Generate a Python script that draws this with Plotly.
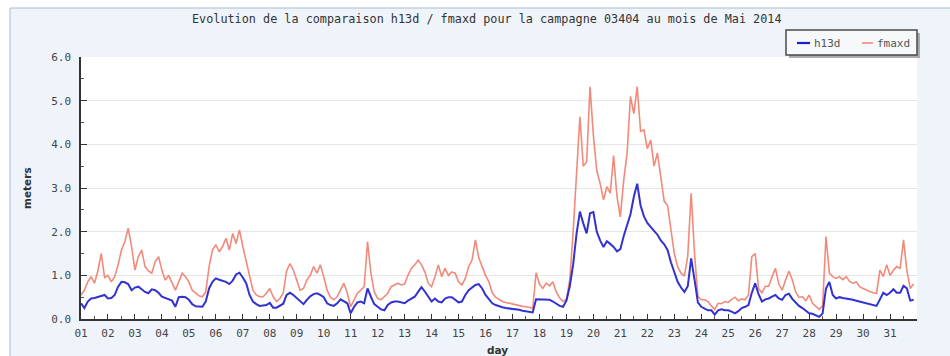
import pandas as pd
import plotly.graph_objects as go

# ---- data (3-hourly, 1 May 2014 00:00 onward) ----
h13d = [
    0.36, 0.25, 0.40, 0.47, 0.48, 0.50, 0.52, 0.55,
    0.47, 0.48, 0.55, 0.74, 0.85, 0.84, 0.80, 0.66,
    0.72, 0.74, 0.68, 0.62, 0.59, 0.68, 0.66, 0.60,
    0.51, 0.48, 0.45, 0.42, 0.28, 0.50, 0.51, 0.50,
    0.44, 0.34, 0.29, 0.28, 0.28, 0.40, 0.70, 0.85,
    0.93, 0.90, 0.88, 0.85, 0.80, 0.88, 1.02, 1.06,
    0.95, 0.82, 0.55, 0.40, 0.34, 0.30, 0.31, 0.32,
    0.37, 0.26, 0.26, 0.30, 0.35, 0.55, 0.60, 0.55,
    0.48, 0.40, 0.34, 0.44, 0.52, 0.57, 0.59, 0.55,
    0.50, 0.36, 0.32, 0.30, 0.36, 0.45, 0.40, 0.36,
    0.13, 0.28, 0.38, 0.40, 0.36, 0.70, 0.51, 0.34,
    0.28, 0.22, 0.20, 0.32, 0.38, 0.40, 0.40, 0.38,
    0.36, 0.42, 0.47, 0.51, 0.62, 0.73, 0.63, 0.50,
    0.40, 0.47, 0.40, 0.38, 0.47, 0.50, 0.50, 0.44,
    0.38, 0.40, 0.55, 0.66, 0.72, 0.78, 0.80, 0.70,
    0.55, 0.45, 0.36, 0.32, 0.29, 0.27, 0.25, 0.24,
    0.24, 0.22, 0.21, 0.19, 0.18, 0.17, 0.15, 0.45,
    0.45, 0.44, 0.45, 0.44, 0.40, 0.35, 0.30, 0.28,
    0.42, 0.75, 1.25, 1.95, 2.46, 2.19, 1.96, 2.42,
    2.45, 2.00, 1.80, 1.65, 1.78, 1.72, 1.65, 1.55,
    1.60, 1.90, 2.15, 2.40, 2.80, 3.10, 2.60, 2.35,
    2.20, 2.10, 2.02, 1.93, 1.80, 1.71, 1.58, 1.30,
    1.05, 0.85, 0.72, 0.62, 0.75, 1.39, 0.90, 0.38,
    0.28, 0.24, 0.20, 0.20, 0.10, 0.20, 0.22, 0.20,
    0.20, 0.17, 0.13, 0.18, 0.25, 0.28, 0.32, 0.60,
    0.82, 0.57, 0.40, 0.45, 0.47, 0.51, 0.55, 0.47,
    0.44, 0.55, 0.58, 0.46, 0.38, 0.30, 0.25, 0.18,
    0.13, 0.12, 0.09, 0.05, 0.13, 0.70, 0.85, 0.55,
    0.47, 0.50, 0.48, 0.47, 0.46, 0.44, 0.42, 0.40,
    0.38, 0.36, 0.34, 0.32, 0.30, 0.45, 0.60, 0.55,
    0.60, 0.68, 0.60, 0.60, 0.76, 0.70, 0.42, 0.44,
]
fmaxd = [
    0.55, 0.66, 0.85, 0.97, 0.82, 1.10, 1.50, 0.95,
    1.00, 0.85, 0.97, 1.24, 1.58, 1.77, 2.08, 1.66,
    1.12, 1.43, 1.58, 1.20, 1.10, 1.05, 1.31, 1.43,
    1.12, 0.89, 1.00, 0.82, 0.66, 0.85, 1.05, 0.97,
    0.85, 0.66, 0.59, 0.53, 0.51, 0.62, 1.20, 1.58,
    1.70, 1.54, 1.66, 1.85, 1.58, 1.96, 1.73, 2.04,
    1.66, 1.35, 0.97, 0.66, 0.55, 0.51, 0.51, 0.59,
    0.70, 0.51, 0.40, 0.47, 0.60, 1.10, 1.27, 1.12,
    0.89, 0.66, 0.70, 0.89, 1.00, 1.20, 1.05, 1.24,
    0.97, 0.66, 0.50, 0.44, 0.51, 0.66, 0.82, 0.59,
    0.28, 0.44, 0.59, 0.66, 0.74, 1.77, 1.05, 0.62,
    0.47, 0.44, 0.51, 0.59, 0.74, 0.78, 0.82, 0.78,
    0.80, 1.00, 1.16, 1.24, 1.35, 1.24, 1.08, 0.82,
    0.74, 0.97, 1.24, 0.97, 1.16, 1.00, 1.08, 1.05,
    0.85, 0.78, 0.93, 1.20, 1.35, 1.81, 1.40, 1.20,
    1.00, 0.85, 0.60, 0.50, 0.45, 0.40, 0.38, 0.36,
    0.35, 0.32, 0.30, 0.29, 0.28, 0.27, 0.24, 1.06,
    0.80, 0.70, 0.82, 0.76, 0.85, 0.62, 0.48, 0.40,
    0.45, 0.90, 2.00, 3.20, 4.63, 3.50, 3.60, 5.32,
    4.20, 3.40, 3.10, 2.73, 3.03, 2.88, 3.74, 2.80,
    2.34, 3.18, 3.80, 5.10, 4.70, 5.32, 4.30, 4.33,
    3.90, 4.10, 3.50, 3.80, 3.20, 2.70, 2.60, 2.00,
    1.50, 1.20, 1.05, 0.98, 1.45, 2.88, 1.50, 0.52,
    0.44, 0.44, 0.40, 0.30, 0.22, 0.36, 0.35, 0.40,
    0.38, 0.45, 0.50, 0.42, 0.46, 0.44, 0.55, 1.43,
    1.50, 0.70, 0.60, 0.75, 0.75, 0.97, 1.16, 0.80,
    0.66, 0.89, 1.10, 0.90, 0.62, 0.50, 0.51, 0.42,
    0.55, 0.36, 0.28, 0.22, 0.30, 1.89, 1.05, 0.97,
    0.93, 0.97, 0.90, 0.97, 0.86, 0.82, 0.85, 0.74,
    0.70, 0.66, 0.63, 0.60, 0.59, 1.12, 0.97, 1.24,
    1.00, 1.12, 1.20, 1.16, 1.81, 1.10, 0.70, 0.80,
]
day_labels = ["%02d" % d for d in range(1, 32)]
series_names = ["h13d", "fmaxd"]
title_text = "Evolution de la comparaison h13d / fmaxd pour la campagne 03404 au mois de Mai 2014"

times = pd.date_range("2014-05-01", periods=len(h13d), freq="3h")
day_ticks = pd.date_range("2014-05-01", periods=31, freq="D")

BLUE = "rgb(28,28,205)"
RED = "rgb(242,138,122)"
MONO = "DejaVu Sans Mono"

# pixel helpers (plot area: x 81..917, y 57..319)
L, R, T, B = 81, 917, 57, 319
def px(x):
    return (x - L) / (R - L)
def py(y):
    return (B - y) / (B - T)

fig = go.Figure()
fig.add_trace(go.Scatter(x=times, y=fmaxd, mode="lines", name=series_names[1],
                         line=dict(color=RED, width=1.6), showlegend=False))
fig.add_trace(go.Scatter(x=times, y=h13d, mode="lines", name=series_names[0],
                         line=dict(color=BLUE, width=2), opacity=0.9, showlegend=False))

shapes = [
    # outer panel
    dict(type="rect", xref="paper", yref="paper", x0=px(10), x1=px(1000), y0=py(420), y1=py(8),
         fillcolor="#eff4fb", line=dict(color="#a9bcd4", width=1), layer="below"),
    # white plot area
    dict(type="rect", xref="paper", yref="paper", x0=0, x1=1, y0=0, y1=1,
         fillcolor="white", line=dict(width=0), layer="below"),
    # legend shadow + box
    dict(type="rect", xref="paper", yref="paper", x0=px(789), x1=px(920), y0=py(58), y1=py(33),
         fillcolor="rgba(110,110,110,0.55)", line=dict(width=0), layer="above"),
    dict(type="rect", xref="paper", yref="paper", x0=px(786), x1=px(917), y0=py(55), y1=py(30),
         fillcolor="#f7f8f9", line=dict(color="#4a4a4a", width=1.5), layer="above"),
    dict(type="line", xref="paper", yref="paper", x0=px(797), x1=px(810), y0=py(43), y1=py(43),
         line=dict(color=BLUE, width=2.2), layer="above"),
    dict(type="line", xref="paper", yref="paper", x0=px(862), x1=px(873), y0=py(43), y1=py(43),
         line=dict(color=RED, width=1.6), layer="above"),
]

annotations = [
    dict(text=title_text, xref="paper", yref="paper", x=px(487), y=py(19), showarrow=False,
         xanchor="center", yanchor="middle", font=dict(family=MONO, size=11.8, color="#333")),
    dict(text=series_names[0], xref="paper", yref="paper", x=px(812), y=py(43), showarrow=False,
         xanchor="left", yanchor="middle", font=dict(family=MONO, size=11, color="#555")),
    dict(text=series_names[1], xref="paper", yref="paper", x=px(875), y=py(43), showarrow=False,
         xanchor="left", yanchor="middle", font=dict(family=MONO, size=11, color="#555")),
    dict(text="<b>meters</b>", xref="paper", yref="paper", x=px(27), y=py(188), showarrow=False,
         textangle=-90, xanchor="center", yanchor="middle",
         font=dict(family="DejaVu Sans", size=10.5, color="#333")),
    dict(text="<b>day</b>", xref="paper", yref="paper", x=px(497), y=py(350), showarrow=False,
         xanchor="center", yanchor="middle",
         font=dict(family="DejaVu Sans", size=10.5, color="#333")),
]

fig.update_layout(
    width=950, height=356,
    margin=dict(l=L, r=950 - R, t=T, b=356 - B, autoexpand=False),
    paper_bgcolor="white", plot_bgcolor="white",
    shapes=shapes, annotations=annotations,
    showlegend=False,
)
fig.update_xaxes(
    type="date", range=["2014-05-01", "2014-06-01"],
    tickmode="array", tickvals=day_ticks, ticktext=day_labels,
    ticks="inside", ticklen=5, tickcolor="#333", tickwidth=1,
    minor=dict(tickmode="linear", tick0="2014-05-01 12:00", dtick=86400000,
               ticks="inside", ticklen=3, tickcolor="#555", showgrid=False),
    showline=True, linecolor="#333", linewidth=1.5,
    showgrid=False, zeroline=False,
    tickfont=dict(family=MONO, size=11, color="#444"),
    ticklabelstandoff=3,
)
fig.update_yaxes(
    range=[0, 6], dtick=1, tickformat=".1f",
    ticks="inside", ticklen=6, tickcolor="#333", tickwidth=1,
    minor=dict(dtick=0.5, ticks="inside", ticklen=3, tickcolor="#555", showgrid=False),
    showline=True, linecolor="#333", linewidth=1.5,
    showgrid=True, gridcolor="#e6e6e6", gridwidth=1, zeroline=False,
    tickfont=dict(family=MONO, size=11, color="#444"),
    ticklabelstandoff=6,
)

fig.write_html("out.html", config={"displayModeBar": False})
